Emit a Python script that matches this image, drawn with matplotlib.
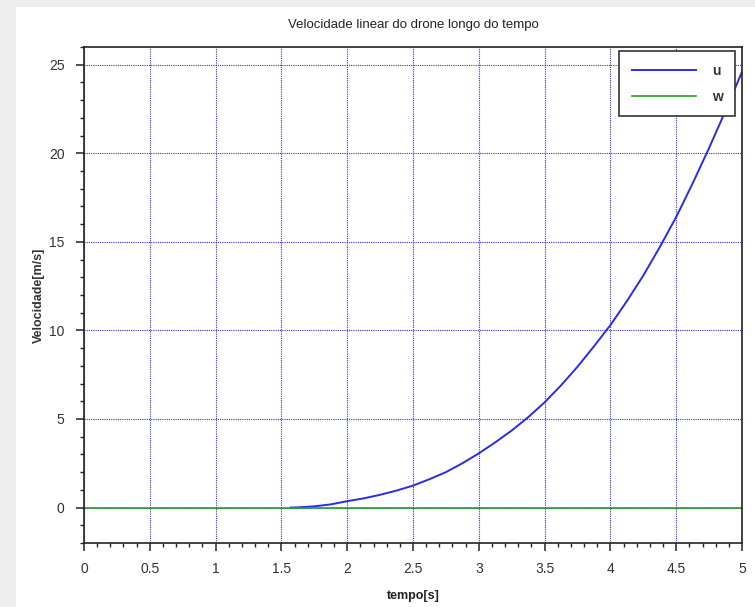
import matplotlib
matplotlib.use("Agg")
import matplotlib.pyplot as plt
from matplotlib.patches import Rectangle
from matplotlib.ticker import MultipleLocator

# values
t_u = [1.57, 1.625, 1.75, 1.875, 2.0, 2.125, 2.25, 2.375, 2.5, 2.625, 2.75, 2.875,
       3.0, 3.125, 3.25, 3.375, 3.5, 3.625, 3.75, 3.875, 4.0, 4.125, 4.25, 4.375,
       4.5, 4.625, 4.75, 4.875, 5.0]
u = [0.0, 0.01, 0.07, 0.18, 0.36, 0.52, 0.72, 0.96, 1.24, 1.6, 2.0, 2.5,
     3.06, 3.68, 4.35, 5.1, 5.94, 6.9, 7.95, 9.1, 10.3, 11.65, 13.1, 14.7,
     16.4, 18.3, 20.3, 22.4, 24.6]
t_w = [0.0, 5.0]
w = [0.0, 0.0]

x_ticks = [0, 0.5, 1, 1.5, 2, 2.5, 3, 3.5, 4, 4.5, 5]
x_tick_labels = ["0", "0.5", "1", "1.5", "2", "2.5", "3", "3.5", "4", "4.5", "5"]
y_ticks = [0, 5, 10, 15, 20, 25]

plt.rcParams["font.family"] = ["Liberation Sans", "DejaVu Sans"]

fig = plt.figure(figsize=(7.55, 6.07), dpi=100, facecolor="#eeeeee")
# white drawing panel like the Scilab window
fig.patches.append(Rectangle((16 / 755, 0), 1, 1 - 7 / 607, transform=fig.transFigure,
                             facecolor="white", edgecolor="none", zorder=-1))

ax = fig.add_axes([84 / 755, 1 - 543 / 607, 658 / 755, 496 / 607])
ax.plot(t_u, u, color="#2a2aee", linewidth=1.4, label="u")
ax.plot(t_w, w, color="#22a022", linewidth=1.2, label="w")

ax.set_xlim(0, 5)
ax.set_ylim(-2, 26)
ax.set_xticks(x_ticks)
ax.set_xticklabels(x_tick_labels)
ax.set_yticks(y_ticks)
ax.xaxis.set_minor_locator(MultipleLocator(0.1))
ax.yaxis.set_minor_locator(MultipleLocator(1))
ax.tick_params(which="major", direction="out", length=6, width=1.1, color="#222222",
               labelsize=10, labelcolor="#333333", pad=8)
ax.tick_params(which="minor", direction="out", length=3, width=1.0, color="#222222")
ax.grid(True, which="major", color="#3030ee", linestyle=(0, (1, 1)), linewidth=0.8)

for s in ax.spines.values():
    s.set_color("#222222")
    s.set_linewidth(1.2)

ax.set_title("Velocidade linear do drone longo do tempo", fontsize=9.5, color="#222222", pad=14)
ax.set_xlabel("tempo[s]", fontsize=9, fontweight="bold", color="#222222", labelpad=10)
ax.set_ylabel("Velocidade[m/s]", fontsize=9, fontweight="bold", color="#333333", labelpad=3)

leg = ax.legend(loc="upper right", bbox_to_anchor=(0.99, 0.991), fontsize=10,
                handlelength=4.6, handletextpad=1.2, labelspacing=0.85,
                borderpad=0.9, borderaxespad=0, fancybox=False, framealpha=1,
                edgecolor="#333333")
leg.get_frame().set_linewidth(1.2)
for txt in leg.get_texts():
    txt.set_fontweight("bold")
    txt.set_color("#333333")

fig.savefig("out.png", dpi=100, facecolor=fig.get_facecolor())
